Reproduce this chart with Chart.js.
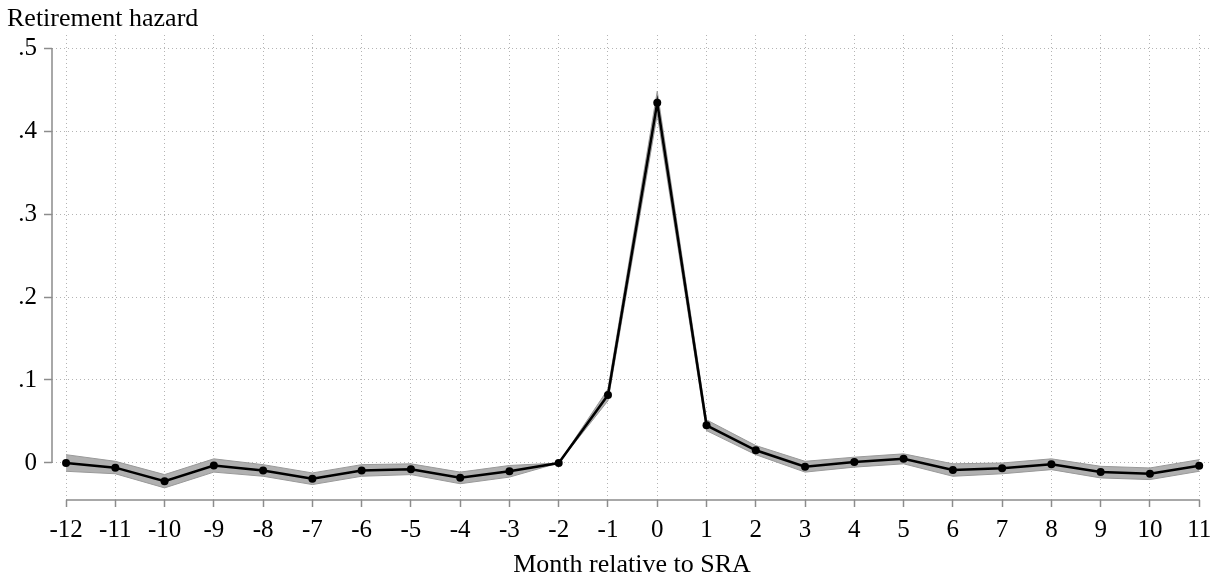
<!DOCTYPE html>
<html>
<head>
<meta charset="utf-8">
<script src="https://cdn.jsdelivr.net/npm/chart.js@4"></script>
<style>
  html, body { margin: 0; padding: 0; background: #fff; }
  canvas { display: block; }
</style>
</head>
<body>
<canvas id="hazardChart" width="1229" height="578"></canvas>
<script>
// months relative to SRA
const months = [-12, -11, -10, -9, -8, -7, -6, -5, -4, -3, -2, -1, 0, 1, 2, 3, 4, 5, 6, 7, 8, 9, 10, 11];
// estimated retirement hazard
const hazard = [0.000, -0.0056, -0.022, -0.003, -0.009, -0.019, -0.009, -0.0076, -0.0177, -0.010, 0.000, 0.082,
  0.434, 0.0454, 0.0153, -0.0044, 0.0012, 0.005, -0.0084, -0.0064, -0.0016, -0.0108, -0.0129, -0.0032];
// confidence band
const ciLow = [-0.010, -0.013, -0.030, -0.011, -0.016, -0.026, -0.016, -0.014, -0.025, -0.017, 0.000, 0.075,
  0.420, 0.039, 0.010, -0.011, -0.005, -0.001, -0.016, -0.013, -0.008, -0.018, -0.020, -0.010];
const ciHigh = [0.010, 0.002, -0.014, 0.005, -0.002, -0.012, -0.002, -0.001, -0.011, -0.003, 0.000, 0.089,
  0.448, 0.052, 0.021, 0.002, 0.007, 0.011, -0.001, 0.000, 0.005, -0.004, -0.006, 0.004];

const yTickValues = [0, 0.1, 0.2, 0.3, 0.4, 0.5];
const yTickLabels = ["0", ".1", ".2", ".3", ".4", ".5"];

const yTitle = "Retirement hazard";
const xTitle = "Month relative to SRA";

const serif = "'Liberation Serif', 'Times New Roman', serif";
const axisGray = "#8c8c8c";

// stata-style axis lines that only span the first to last tick, plus titles
const axesPlugin = {
  id: "stataAxes",
  afterDraw(chart) {
    const { ctx, chartArea, scales } = chart;
    const x = scales.x, y = scales.y;
    ctx.save();
    ctx.strokeStyle = axisGray;
    ctx.lineWidth = 1.5;
    ctx.beginPath();
    ctx.moveTo(chartArea.left, y.getPixelForValue(yTickValues[0]));
    ctx.lineTo(chartArea.left, y.getPixelForValue(yTickValues[yTickValues.length - 1]));
    ctx.moveTo(x.getPixelForValue(months[0]), chartArea.bottom);
    ctx.lineTo(x.getPixelForValue(months[months.length - 1]), chartArea.bottom);
    ctx.stroke();

    ctx.fillStyle = "#000";
    ctx.font = "26px " + serif;
    ctx.textBaseline = "alphabetic";
    ctx.textAlign = "left";
    ctx.fillText(yTitle, 7, 26);
    ctx.textAlign = "center";
    ctx.fillText(xTitle, (chartArea.left + chartArea.right) / 2, 572);
    ctx.restore();
  }
};

const ctx = document.getElementById("hazardChart").getContext("2d");

new Chart(ctx, {
  type: "line",
  data: {
    datasets: [
      {
        label: "Hazard",
        data: months.map((m, i) => ({ x: m, y: hazard[i] })),
        borderColor: "#000",
        backgroundColor: "#000",
        borderWidth: 2.5,
        pointRadius: 4,
        pointBackgroundColor: "#000",
        pointBorderWidth: 0,
        tension: 0,
        fill: false
      },
      {
        label: "upper",
        data: months.map((m, i) => ({ x: m, y: ciHigh[i] })),
        borderColor: "#999999",
        borderWidth: 1,
        pointRadius: 0,
        tension: 0,
        fill: false
      },
      {
        label: "lower",
        data: months.map((m, i) => ({ x: m, y: ciLow[i] })),
        borderColor: "#999999",
        borderWidth: 1,
        backgroundColor: "#b0b0b0",
        pointRadius: 0,
        tension: 0,
        fill: "-1"
      }
    ]
  },
  options: {
    responsive: false,
    animation: false,
    layout: { padding: { top: 35, right: 17, left: 0, bottom: 0 } },
    plugins: {
      legend: { display: false },
      tooltip: { enabled: false }
    },
    scales: {
      x: {
        type: "linear",
        min: -12.285,
        max: 11.26,
        afterBuildTicks: (scale) => { scale.ticks = months.map(v => ({ value: v })); },
        afterFit: (scale) => { scale.height = 78; },
        ticks: {
          color: "#000",
          font: { family: serif, size: 25 },
          padding: 8,
          maxRotation: 0,
          autoSkip: false,
          callback: (v) => String(v)
        },
        grid: {
          color: "#b4b4b4",
          lineWidth: 1,
          drawTicks: true,
          tickLength: 7,
          tickColor: axisGray,
          tickWidth: 1.5
        },
        border: { display: false, dash: [1, 3] }
      },
      y: {
        min: -0.0446,
        max: 0.5157,
        afterBuildTicks: (scale) => { scale.ticks = yTickValues.map(v => ({ value: v })); },
        afterFit: (scale) => { scale.width = 52; },
        ticks: {
          color: "#000",
          font: { family: serif, size: 25 },
          padding: 7,
          callback: (v) => yTickLabels[yTickValues.indexOf(v)]
        },
        grid: {
          color: "#b4b4b4",
          lineWidth: 1,
          drawTicks: true,
          tickLength: 8,
          tickColor: axisGray,
          tickWidth: 1.5
        },
        border: { display: false, dash: [1, 3] }
      }
    }
  },
  plugins: [axesPlugin]
});
</script>
</body>
</html>
